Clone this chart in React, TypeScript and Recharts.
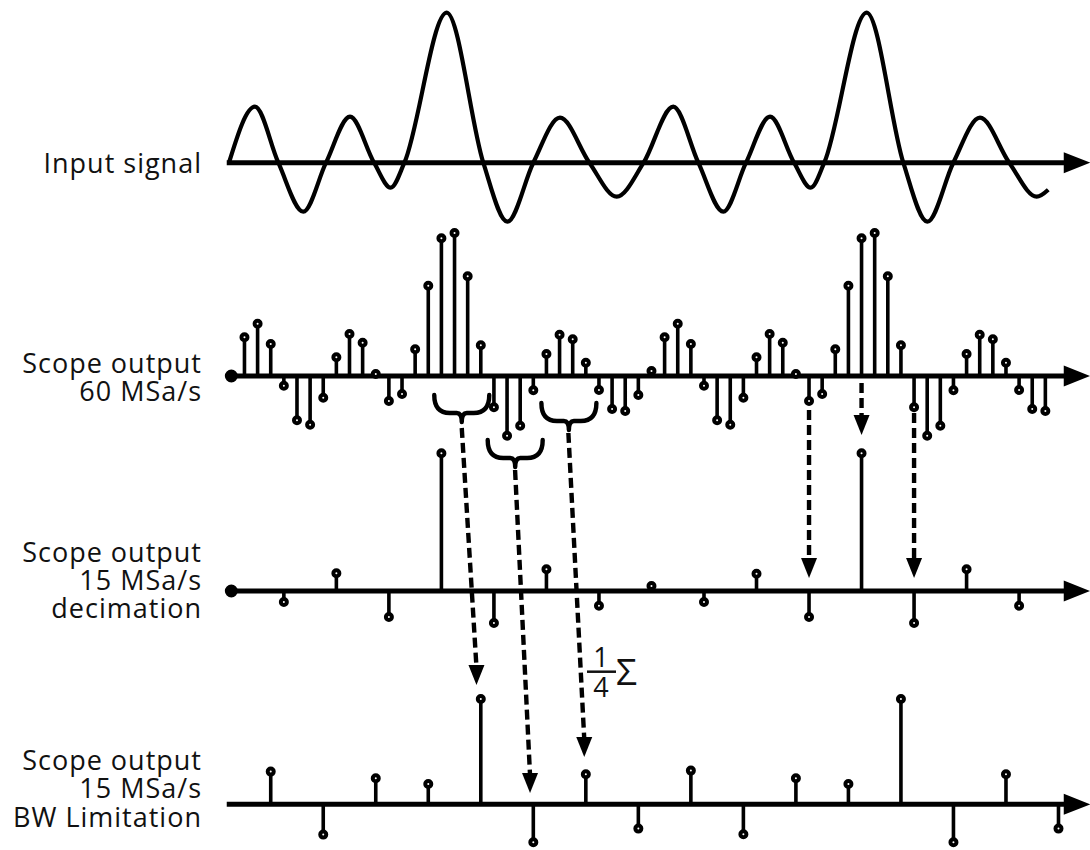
import { ComposedChart, XAxis, YAxis, Line, Scatter, ReferenceLine, ReferenceDot } from 'recharts';

const W = 1090;
const H = 850;

// x is measured in 60 MSa/s sample periods, y in chart units (0 = bottom edge)
const X_MIN = -17.62;
const X_MAX = 65.4;

const ROW_INPUT = 687.3;
const ROW_60 = 474;
const ROW_DEC = 259;
const ROW_BW = 45.7;

const AXIS_START = -0.35;
const AXIS_HEAD = 63.4;

// input signal: turning points and zero crossings
const INPUT_T = [
  -0.18, 1.8, 3.58, 5.48, 7.21, 9.04, 10.87, 12.14, 13.18, 16.4, 19.19, 21.02, 23.0, 25.03, 27.27, 29.35,
  31.4, 33.66, 35.57, 37.47, 39.2, 41.03, 42.86, 44.13, 45.16, 48.39, 51.18, 53.01, 54.99, 57.02, 59.25, 61.34, 62.22,
];
const INPUT_V = [
  0, 56, 0, -49, 0, 46, 0, -25, 0, 150, 0, -59, 0, 45, 0, -34,
  0, 56, 0, -49, 0, 46, 0, -25, 0, 150, 0, -59, 0, 45, 0, -34, -27,
];

// scope output, 60 MSa/s
const FAST_VALUES = [
  0, 38.7, 52.3, 32, -9.7, -44.3, -48.7, -21.7, 18.7, 42, 33.3, 2, -25, -18, 26.7, 90.3,
  137.7, 143, 99.7, 30.7, -31.3, -59.7, -49.7, -14.3, 22, 41.3, 36.7, 13.3, -14, -33, -35, -19,
  5, 38.7, 52.3, 32, -9.7, -44.3, -48.7, -21.7, 18.7, 42, 33.3, 2, -25, -18, 26.7, 90.3,
  137.7, 143, 99.7, 30.7, -31.3, -59.7, -49.7, -14.3, 22, 41.3, 36.7, 13.3, -14, -33, -35,
];

// 15 MSa/s decimation
const DEC_IDX = [0, 4, 8, 12, 16, 20, 24, 28, 32, 36, 40, 44, 48, 52, 56, 60];
const DEC_VALUES = [0, -11, 17.7, -26, 137.7, -32, 21.7, -14.7, 5, -11, 17.3, -26, 137.7, -32, 21.7, -14.7];

// 15 MSa/s BW limitation
const BW_IDX = [3, 7, 11, 15, 19, 23, 27, 31, 35, 39, 43, 47, 51, 55, 59, 63];
const BW_VALUES = [32.7, -30.3, 26, 20.3, 105.3, -38, 30, -24.3, 33.7, -30, 26, 20.3, 105.3, -38, 30, -24.3];

const BRACES = [
  { x: 17.55, y: ROW_60 - 19 },
  { x: 21.62, y: ROW_60 - 64 },
  { x: 25.71, y: ROW_60 - 27 },
];

const ARROWS = [
  { x0: 17.55, y0: ROW_60 - 52, x1: 18.67, y1: ROW_BW + 119.3 },
  { x0: 21.61, y0: ROW_60 - 94, x1: 22.75, y1: ROW_BW + 11.3 },
  { x0: 25.67, y0: ROW_60 - 57, x1: 26.88, y1: ROW_BW + 47.3 },
  { x0: 44, y0: ROW_60 - 34, x1: 44, y1: ROW_DEC + 13 },
  { x0: 48, y0: ROW_60 - 7, x1: 48, y1: ROW_60 - 59 },
  { x0: 52, y0: ROW_60 - 37, x1: 52, y1: ROW_DEC + 13 },
];

const LABELS = [
  { lines: ['Input signal'], baseline: 173.3 },
  { lines: ['Scope output', '60 MSa/s'], baseline: 372.7 },
  { lines: ['Scope output', '15 MSa/s', 'decimation'], baseline: 561.7 },
  { lines: ['Scope output', '15 MSa/s', 'BW Limitation'], baseline: 770 },
];

const FONT = '"Open Sans", sans-serif';
const INK = '#000';
const TEXT = '#111';

const FAST_IDX = FAST_VALUES.map((_, i) => i);

const stemPath = (idx: number[], vals: number[], base: number) =>
  idx.flatMap((x, k) => [
    { x, y: base },
    { x, y: base + vals[k] },
    { x, y: base },
  ]);

const stemTips = (idx: number[], vals: number[], base: number) =>
  idx.map((x, k) => ({ x, y: base + vals[k], v: vals[k] }));

const inputData = INPUT_T.map((x, k) => ({ x, y: ROW_INPUT + INPUT_V[k] }));

// eslint-disable-next-line @typescript-eslint/no-explicit-any
const StemDot = (p: any) => {
  const filled = p.payload?.v === 0;
  return (
    <circle cx={p.cx} cy={p.cy} r={filled ? 4.5 : 3} fill={filled ? INK : '#fff'} stroke={INK} strokeWidth={4} />
  );
};

// eslint-disable-next-line @typescript-eslint/no-explicit-any
const AxisHead = (p: any) => (
  <path d={`M${p.cx},${p.cy - 10.5}L${p.cx + 26.5},${p.cy}L${p.cx},${p.cy + 10.5}Z`} fill={INK} />
);

// eslint-disable-next-line @typescript-eslint/no-explicit-any
const DownHead = (p: any) => (
  <path d={`M${p.cx - 8},${p.cy - 20}L${p.cx + 8},${p.cy - 20}L${p.cx},${p.cy}Z`} fill={INK} />
);

// eslint-disable-next-line @typescript-eslint/no-explicit-any
const Brace = (p: any) => {
  const { cx, cy } = p;
  const d = `M${cx - 27.5},${cy} C${cx - 27.5},${cy + 12} ${cx - 22},${cy + 18} ${cx - 12},${cy + 18} L${cx - 5},${cy + 18} Q${cx},${cy + 18} ${cx},${cy + 27} Q${cx},${cy + 18} ${cx + 5},${cy + 18} L${cx + 12},${cy + 18} C${cx + 22},${cy + 18} ${cx + 27.5},${cy + 12} ${cx + 27.5},${cy}`;
  return <path d={d} fill="none" stroke={INK} strokeWidth={4.4} strokeLinecap="round" strokeLinejoin="round" />;
};

const ROWS = [
  { base: ROW_INPUT, idx: [] as number[], vals: [] as number[] },
  { base: ROW_60, idx: FAST_IDX, vals: FAST_VALUES },
  { base: ROW_DEC, idx: DEC_IDX, vals: DEC_VALUES },
  { base: ROW_BW, idx: BW_IDX, vals: BW_VALUES },
];

export default function App() {
  return (
    <div style={{ position: 'absolute', left: 0, top: 0, width: W, height: H, background: '#fff' }}>
      <ComposedChart width={W} height={H} margin={{ top: 0, right: 0, bottom: 0, left: 0 }}>
        <XAxis type="number" dataKey="x" domain={[X_MIN, X_MAX]} allowDataOverflow hide height={0} />
        <YAxis type="number" dataKey="y" domain={[0, H]} allowDataOverflow hide width={0} />

        {ROWS.map((r) => (
          <ReferenceLine
            key={`axis-${r.base}`}
            segment={[
              { x: AXIS_START, y: r.base },
              { x: AXIS_HEAD + 0.3, y: r.base },
            ]}
            stroke={INK}
            strokeWidth={5}
          />
        ))}
        {ROWS.map((r) => (
          <ReferenceDot key={`head-${r.base}`} x={AXIS_HEAD} y={r.base} r={1} shape={AxisHead} />
        ))}

        <Line
          data={inputData}
          dataKey="y"
          type="monotone"
          stroke={INK}
          strokeWidth={4.2}
          dot={false}
          activeDot={false}
          isAnimationActive={false}
        />

        {ROWS.slice(1).map((r) => (
          <Line
            key={`stems-${r.base}`}
            data={stemPath(r.idx, r.vals, r.base)}
            dataKey="y"
            type="linear"
            stroke={INK}
            strokeWidth={3.6}
            strokeLinejoin="bevel"
            dot={false}
            activeDot={false}
            isAnimationActive={false}
          />
        ))}
        {ROWS.slice(1).map((r) => (
          <Scatter
            key={`tips-${r.base}`}
            data={stemTips(r.idx, r.vals, r.base)}
            dataKey="y"
            shape={StemDot}
            isAnimationActive={false}
          />
        ))}

        {BRACES.map((b) => (
          <ReferenceDot key={`brace-${b.x}`} x={b.x} y={b.y} r={1} shape={Brace} />
        ))}
        {ARROWS.map((a) => (
          <ReferenceLine
            key={`arrow-${a.x0}`}
            segment={[
              { x: a.x0, y: a.y0 },
              { x: a.x1, y: a.y1 + 18 },
            ]}
            stroke={INK}
            strokeWidth={4.4}
            strokeDasharray="10 5"
          />
        ))}
        {ARROWS.map((a) => (
          <ReferenceDot key={`arrowhead-${a.x0}`} x={a.x1} y={a.y1} r={1} shape={DownHead} />
        ))}
      </ComposedChart>

      <svg
        width={W}
        height={H}
        style={{ position: 'absolute', left: 0, top: 0, pointerEvents: 'none' }}
        fontFamily={FONT}
        fontSize={27}
        fill={TEXT}
      >
        {LABELS.map((l) => (
          <text key={l.baseline} textAnchor="end" letterSpacing={1}>
            {l.lines.map((line, k) => (
              <tspan key={k} x={202} y={l.baseline + k * 28.3}>
                {line}
              </tspan>
            ))}
          </text>
        ))}
        <text x={601} y={666.5} textAnchor="middle">1</text>
        <line x1={587} x2={616} y1={671.7} y2={671.7} stroke={TEXT} strokeWidth={2.5} />
        <text x={601} y={697} textAnchor="middle">4</text>
        <text x={616} y={685} fontSize={37}>Σ</text>
      </svg>
    </div>
  );
}
